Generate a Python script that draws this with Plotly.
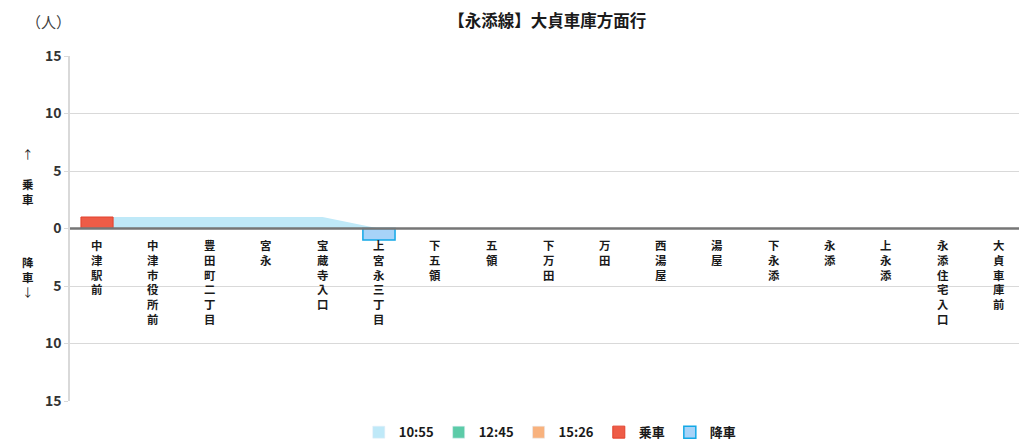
import plotly.graph_objects as go

# stops along the route (大貞車庫方面)
stops = ['中津駅前', '中津市役所前', '豊田町二丁目', '宮永', '宝蔵寺入口', '上宮永三丁目',
         '下五領', '五領', '下万田', '万田', '西湯屋', '湯屋', '下永添', '永添',
         '上永添', '永添住宅入口', '大貞車庫前']

# passengers on board after each stop, per departure
onboard_1055 = [1, 1, 1, 1, 1, 0, 0, 0, 0, 0, 0, 0, 0, 0, 0, 0, 0]
onboard_1245 = [0] * 17
onboard_1526 = [0] * 17

# boarding / alighting counts (all departures)
boarding = [1, 0, 0, 0, 0, 0, 0, 0, 0, 0, 0, 0, 0, 0, 0, 0, 0]
alighting = [0, 0, 0, 0, 0, 1, 0, 0, 0, 0, 0, 0, 0, 0, 0, 0, 0]

ytick_vals = [-15, -10, -5, 0, 5, 10, 15]
ytick_text = ['15', '10', '5', '0', '5', '10', '15']

FONT = 'Noto Sans CJK JP'
TXT = '#1a1a1a'
x = list(range(len(stops)))

fig = go.Figure()

series = [
    ('10:55', onboard_1055, '#bfe9f8'),
    ('12:45', onboard_1245, '#5ccba8'),
    ('15:26', onboard_1526, '#f8b27e'),
]
for name, vals, col in series:
    fig.add_trace(go.Scatter(
        x=x, y=vals, mode='lines', fill='tozeroy', fillcolor=col,
        line=dict(width=0, color=col), showlegend=False, hoverinfo='skip'
    ))
    # legend swatch only
    fig.add_trace(go.Bar(x=[None], y=[None], name=name, marker_color=col))

# bars go on an overlaid axis pair so they sit above the areas
fig.add_trace(go.Bar(
    x=x, y=[v if v else None for v in boarding], name='乗車', width=0.57,
    xaxis='x2', yaxis='y2',
    marker=dict(color='#ee5c47', line=dict(color='#e2412c', width=1))
))
fig.add_trace(go.Bar(
    x=x, y=[-v if v else None for v in alighting], name='降車', width=0.57,
    xaxis='x2', yaxis='y2',
    marker=dict(color='#a7d3f8', line=dict(color='#13a8e6', width=1.5))
))

# zero line on top of marks
fig.add_shape(type='line', xref='paper', yref='y', x0=0, x1=1, y0=0, y1=0,
              line=dict(color='#767676', width=2.5), layer='above')

# stop names written vertically under the zero line
for i, s in enumerate(stops):
    fig.add_annotation(x=i, y=0, text='<br>'.join(s), showarrow=False,
                       yanchor='top', yshift=-6,
                       font=dict(family=FONT, size=11.4, color=TXT, weight='bold'))

side = dict(xref='paper', yref='paper', x=-0.0527, showarrow=False, yanchor='top',
            font=dict(family=FONT, size=11.5, color=TXT))
fig.add_annotation(**side, y=(401 - 144) / 345, text='↑<br><br><b>乗</b><br><b>車</b>')
fig.add_annotation(**side, y=(401 - 252) / 345, text='<b>降</b><br><b>車</b><br>↓')
fig.add_annotation(xref='paper', yref='paper', x=0.003, y=1.101, xanchor='right', yanchor='middle',
                   text='（人）', showarrow=False, font=dict(family=FONT, size=15, color='#404040'))

fig.update_layout(
    width=1019, height=441,
    margin=dict(l=70, r=0, t=56, b=40),
    paper_bgcolor='white', plot_bgcolor='white',
    title=dict(text='【永添線】大貞車庫方面行', x=0.537, xanchor='center', y=0.953, yanchor='middle',
               font=dict(family=FONT, size=16.5, color=TXT, weight='bold')),
    barmode='overlay',
    xaxis=dict(range=[-0.479, 16.35], showticklabels=False, showgrid=False,
               zeroline=False, showline=False, fixedrange=True),
    xaxis2=dict(range=[-0.479, 16.35], overlaying='x', visible=False),
    yaxis=dict(range=[-15, 15], tickvals=ytick_vals, ticktext=ytick_text,
               showgrid=True, gridcolor='#d9d9d9', gridwidth=1, zeroline=False,
               showline=True, linecolor='#d9d9d9', linewidth=1.5,
               ticks='outside', ticklen=4, tickcolor='#d9d9d9',
               tickfont=dict(family=FONT, size=14, color='#333333', weight='bold')),
    yaxis2=dict(range=[-15, 15], overlaying='y', visible=False),
    legend=dict(orientation='h', xref='container', yref='container',
                x=0.54, xanchor='center', y=0.02, yanchor='middle',
                font=dict(family=FONT, size=13, color=TXT, weight='bold'),
                itemwidth=30, tracegroupgap=0),
    showlegend=True,
)

fig.write_html('out.html', config={'displayModeBar': False},
               post_script="document.body.style.margin='0';")
